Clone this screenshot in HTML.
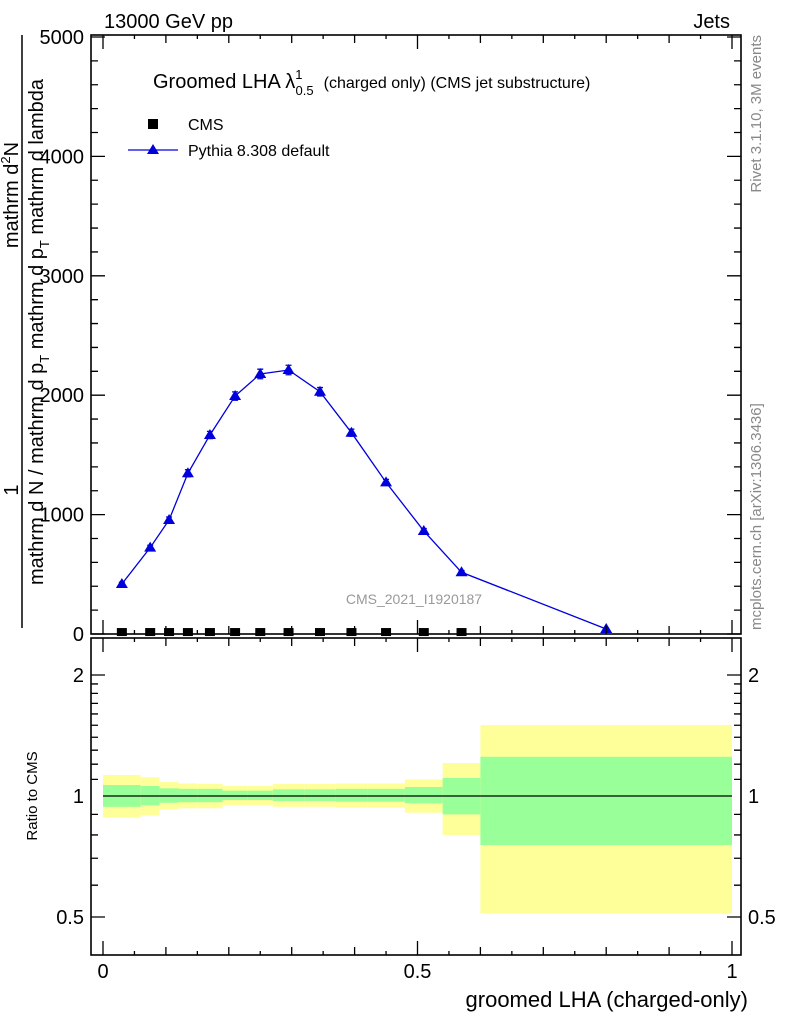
<!DOCTYPE html>
<html><head><meta charset="utf-8"><style>
html,body{margin:0;padding:0;background:#fff;}
svg{display:block;font-family:"Liberation Sans",sans-serif;}
</style></head><body>
<svg id="chart" width="786" height="1024" viewBox="0 0 786 1024" xmlns="http://www.w3.org/2000/svg">
<g id="ratio-bands"></g>
<g id="main-marks"></g>
<g id="axes"></g>
<text x="104" y="28" font-size="20">13000 GeV pp</text>
<text x="730" y="28" font-size="20" text-anchor="end">Jets</text>
<text x="153" y="88" font-size="20">Groomed LHA λ<tspan font-size="13" dy="-9">1</tspan><tspan font-size="13" dx="-7" dy="16">0.5</tspan><tspan font-size="16" dx="10" dy="-7">(charged only) (CMS jet substructure)</tspan></text>
<g>
<rect x="148" y="119" width="10" height="10" fill="#000"/>
<text x="188" y="130" font-size="16">CMS</text>
<line x1="128" y1="150" x2="178" y2="150" stroke="#0000dd" stroke-width="1.3"/>
<polygon points="153,144 159,154 147,154" fill="#0000dd"/>
<text x="188" y="156" font-size="16">Pythia 8.308 default</text>
</g>
<text x="414" y="604" font-size="14" fill="#999" text-anchor="middle">CMS_2021_I1920187</text>
<text transform="translate(761,35) rotate(-90)" font-size="15" fill="#888" text-anchor="end">Rivet 3.1.10,  3M events</text>
<text transform="translate(761,630) rotate(-90)" font-size="15" fill="#888">mcplots.cern.ch [arXiv:1306.3436]</text>
<g>
<line x1="22" y1="35" x2="22" y2="628" stroke="#000" stroke-width="1.5"/>
<text transform="translate(18,195) rotate(-90)" font-size="20" text-anchor="middle">mathrm d<tspan font-size="13" dy="-8">2</tspan><tspan dy="8">N</tspan></text>
<text transform="translate(18,490) rotate(-90)" font-size="20" text-anchor="middle">1</text>
<text transform="translate(43,332) rotate(-90)" font-size="20" text-anchor="middle">mathrm d N / mathrm d p<tspan font-size="13" dy="6">T</tspan><tspan dy="-6"> mathrm d p</tspan><tspan font-size="13" dy="6">T</tspan><tspan dy="-6"> mathrm d lambda</tspan></text>
</g>
<text transform="translate(37,796) rotate(-90)" font-size="15" text-anchor="middle">Ratio to CMS</text>
<text x="748" y="1007" font-size="22" text-anchor="end">groomed LHA (charged-only)</text>
</svg>
<script>
const binEdges=[0,0.06,0.09,0.12,0.15,0.19,0.23,0.27,0.32,0.37,0.42,0.48,0.54,0.6,1.0];
const binCenters=[0.03,0.075,0.105,0.135,0.17,0.21,0.25,0.295,0.345,0.395,0.45,0.51,0.57,0.8];
const pythiaValues=[419,723,955,1346,1667,1993,2178,2211,2029,1686,1270,863,517,42];
const pythiaErrors=[15,20,25,30,30,35,40,40,35,30,25,20,15,5];
const cmsValues=[8,8,8,8,8,8,8,8,8,8,8,8,8];
const yellowHi=[1.128,1.113,1.083,1.075,1.072,1.059,1.059,1.071,1.071,1.075,1.075,1.1,1.208,1.502];
const greenHi=[1.065,1.059,1.045,1.042,1.042,1.031,1.031,1.039,1.039,1.042,1.042,1.053,1.109,1.252];
const greenLo=[0.94,0.948,0.962,0.965,0.965,0.977,0.977,0.972,0.972,0.968,0.968,0.959,0.9,0.755];
const yellowLo=[0.883,0.895,0.927,0.932,0.932,0.95,0.95,0.94,0.94,0.935,0.935,0.909,0.8,0.51];
const mainYTicks=[0,1000,2000,3000,4000,5000];
const ratioYTicks=[0.5,1,2];
const xTicks=[0,0.5,1];

const NS='http://www.w3.org/2000/svg';
const L=91,R=741,T1=35,B1=634,T2=638,B2=955;
const X=v=>103+v*629;
const Y=v=>634-v*0.1194;
const RY=r=>796-121*Math.log2(r);
function mk(tag,attrs,parent){const e=document.createElementNS(NS,tag);for(const k in attrs)e.setAttribute(k,attrs[k]);parent.appendChild(e);return e;}
const bands=document.getElementById('ratio-bands');
const marks=document.getElementById('main-marks');
const axes=document.getElementById('axes');

for(let i=0;i<binCenters.length;i++){
  const x0=X(binEdges[i]),x1=X(binEdges[i+1]);
  const y=mk('rect',{x:x0,y:RY(yellowHi[i]),width:x1-x0,height:RY(yellowLo[i])-RY(yellowHi[i]),fill:'#ffff99'},bands);
  
  
  const g=mk('rect',{x:x0,y:RY(greenHi[i]),width:x1-x0,height:RY(greenLo[i])-RY(greenHi[i]),fill:'#99ff99'},bands);
  
  
}
const one=mk('line',{x1:X(binEdges[0]),x2:X(binEdges[binEdges.length-1]),y1:RY(1),y2:RY(1),stroke:'#000','stroke-width':1.3},bands);



for(let i=0;i<cmsValues.length;i++){
  const s=mk('rect',{x:X(binCenters[i])-5,y:Y(cmsValues[i])-5,width:10,height:8,fill:'#000'},marks);
  
  
}
const pts=binCenters.map((c,i)=>X(c)+','+Y(pythiaValues[i])).join(' ');
const pl=mk('polyline',{points:pts,fill:'none',stroke:'#0000dd','stroke-width':1.3},marks);


for(let i=0;i<binCenters.length;i++){
  const x=X(binCenters[i]),y=Y(pythiaValues[i]);
  const yt=Y(pythiaValues[i]+pythiaErrors[i]),yb=Y(pythiaValues[i]-pythiaErrors[i]);
  const e=mk('path',{d:'M'+x+','+yt+'V'+yb+'M'+(x-3)+','+yt+'h6M'+(x-3)+','+yb+'h6',stroke:'#0000dd','stroke-width':1.3},marks);
  
  
  const t=mk('polygon',{points:x+','+(y-6)+' '+(x+6)+','+(y+4)+' '+(x-6)+','+(y+4),fill:'#0000dd'},marks);
  
  
}

[[T1,B1],[T2,B2]].forEach(([t,b],k)=>{
  const f=mk('rect',{x:L,y:t,width:R-L,height:b-t,fill:'none',stroke:'#000','stroke-width':1.6},axes);
  
  
});
let d='';
for(let i=0;i<=20;i++){
  const v=i*0.05,x=X(v);
  const len=(i%10===0)?14:(i%2===0?8:4);
  d+='M'+x+','+B1+'v'+(-len)+'M'+x+','+T1+'v'+len+'M'+x+','+B2+'v'+(-len)+'M'+x+','+T2+'v'+len;
}
for(let v=0;v<=5000;v+=200){
  const y=Y(v),len=(v%1000===0)?14:7;
  d+='M'+L+','+y+'h'+len+'M'+R+','+y+'h'+(-len);
}
const minorR=[0.5,0.6,0.7,0.8,0.9,1.1,1.2,1.3,1.4,1.5,1.6,1.7,1.8,1.9,2.0];
minorR.forEach(r=>{const y=RY(r);const len=ratioYTicks.includes(r)?14:7;d+='M'+L+','+y+'h'+len+'M'+R+','+y+'h'+(-len);});
const tk=mk('path',{d:d,stroke:'#000','stroke-width':1.3,fill:'none'},axes);



mainYTicks.forEach(v=>{
  const t=mk('text',{x:84,y:Y(v)+7,'font-size':20,'text-anchor':'end'},axes);
  t.textContent=String(v);
  
  
});
ratioYTicks.forEach(v=>{
  [[84,'end'],[748,'start']].forEach(([x,a])=>{
    const t=mk('text',{x:x,y:RY(v)+7,'font-size':20,'text-anchor':a},axes);
    t.textContent=String(v);
    
    
  });
});
xTicks.forEach(v=>{
  const t=mk('text',{x:X(v),y:978,'font-size':20,'text-anchor':'middle'},axes);
  t.textContent=String(v);
  
  
});
</script>
</body></html>
